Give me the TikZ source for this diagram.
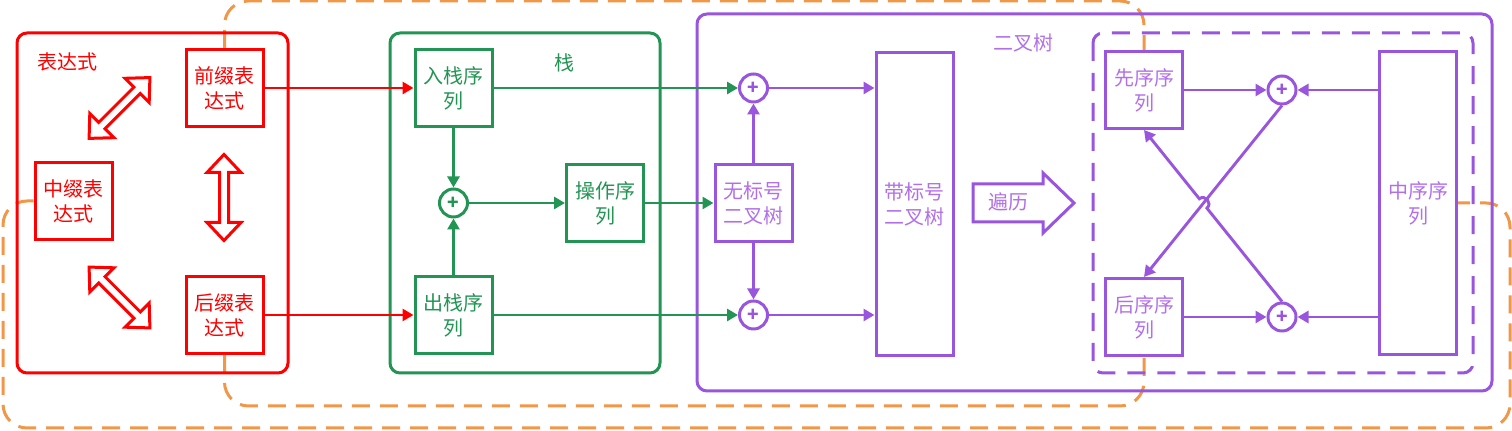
\documentclass[tikz,border=0pt]{standalone}
\usepackage{fontspec}
\setmainfont{Noto Sans CJK SC}
\usetikzlibrary{arrows.meta,calc}
\definecolor{ExprClr}{RGB}{255,0,0}
\definecolor{StackClr}{RGB}{34,148,83}
\definecolor{TreeClr}{RGB}{153,85,221}
\definecolor{TreeTxt}{RGB}{178,112,232}
\definecolor{GroupClr}{RGB}{241,151,72}
\newcommand{\dblarrow}[2]{%
  \draw[ExprClr,line width=1.5pt,fill=white,shift={#1},rotate=#2]
    (-43,0) -- (-25,-17) -- (-25,-4.5) -- (25,-4.5) -- (25,-17) -- (43,0)
    -- (25,17) -- (25,4.5) -- (-25,4.5) -- (-25,17) -- cycle;}

\begin{document}
\begin{tikzpicture}[x=0.5pt,y=-0.5pt,
  frame/.style={line width=1.5pt,rounded corners=5pt},
  box/.style={draw,line width=1.5pt,minimum width=38.5pt,minimum height=38.5pt,
    inner sep=0pt,align=center,font=\fontsize{10}{12.5}\selectfont},
  tall/.style={box,minimum height=151.5pt},
  sum/.style={circle,draw,line width=1.5pt,minimum size=14pt,inner sep=0pt,
    font=\bfseries\fontsize{9.5}{9.5}\selectfont},
  caption/.style={font=\fontsize{10}{12.5}\selectfont},
  link/.style={line width=1.45pt,-{Triangle[length=5.5pt,width=6pt]}},
  grp/.style={GroupClr,line width=1.5pt,dash pattern=on 9pt off 5pt,rounded corners=12pt}]
\useasboundingbox (0,0) rectangle (1512,431);

\node[box,ExprClr] (qz) at (224.5,88) {前缀表\\达式};
\node[box,ExprClr] (zz) at (73.5,201) {中缀表\\达式};
\node[box,ExprClr] (hz) at (224.5,315) {后缀表\\达式};
\node[box,StackClr] (rz) at (453.5,88) {入栈序\\列};
\node[box,StackClr] (cz) at (453.5,315) {出栈序\\列};
\node[sum,StackClr] (pg) at (453.5,203) {+};
\node[box,StackClr] (op) at (605,203) {操作序\\列};
\node[sum,TreeClr] (pa) at (753.5,88) {+};
\node[sum,TreeClr] (pb) at (753.5,315) {+};
\node[box,TreeClr,text=TreeTxt] (wb) at (753.5,203) {无标号\\二叉树};
\node[tall,TreeClr,text=TreeTxt] (db) at (914.5,204) {带标号\\二叉树};
\node[box,TreeClr,text=TreeTxt] (xx) at (1144,90) {先序序\\列};
\node[box,TreeClr,text=TreeTxt] (hx) at (1144,317) {后序序\\列};
\node[tall,TreeClr,text=TreeTxt] (zx) at (1418,203) {中序序\\列};
\node[sum,TreeClr] (c1) at (1282,90) {+};
\node[sum,TreeClr] (c2) at (1282,317) {+};

\draw[grp] (qz.north) -- ++(0,-47) -| (xx.north);
\draw[grp] (hz.south) -- ++(0,51) -| (hx.south);
\draw[grp] (zz.west) -| (3,428) -| (1510,203) -- (zx.east);

\draw[ExprClr,frame] (17,33) rectangle (288,373);
\draw[StackClr,frame] (390,33) rectangle (660,373);
\draw[TreeClr,frame] (697,14) rectangle (1492,391);
\draw[TreeClr,frame,line width=1.5pt,dash pattern=on 9pt off 6pt] (1093,33) rectangle (1473,373);

\node[caption,ExprClr] (lbe) at (68,62) {表达式};
\node[caption,StackClr] (lbs) at (564,63) {栈};
\node[caption,TreeTxt] (lbt) at (1023,43) {二叉树};

\dblarrow{(119.5,108)}{45}
\dblarrow{(224,197.5)}{90}
\dblarrow{(119.5,297.5)}{-45}

\draw[ExprClr,link] (qz.east) -- (rz.west);
\draw[ExprClr,link] (hz.east) -- (cz.west);
\draw[StackClr,link] (rz.south) -- (pg.north);
\draw[StackClr,link] (cz.north) -- (pg.south);
\draw[StackClr,link] (pg.east) -- (op.west);
\draw[StackClr,link] (rz.east) -- (pa.west);
\draw[StackClr,link] (cz.east) -- (pb.west);
\draw[StackClr,link] (op.east) -- (wb.west);
\draw[TreeClr,link] (wb.north) -- (pa.south);
\draw[TreeClr,link] (wb.south) -- (pb.north);
\draw[TreeClr,link] (pa.east) -- (pa -| db.west);
\draw[TreeClr,link] (pb.east) -- (pb -| db.west);

\draw[TreeClr,line width=1.5pt,fill=white] (973,184) -- (1043,184) -- (1043,173) -- (1074,203)
  -- (1043,233) -- (1043,222) -- (973,222) -- cycle;
\node[caption,TreeTxt] (bl) at (1008,202) {遍历};

\draw[TreeClr,link] (xx.east) -- (c1.west);
\draw[TreeClr,link] (c1 -| zx.west) -- (c1.east);
\draw[TreeClr,link] (hx.east) -- (c2.west);
\draw[TreeClr,link] (c2 -| zx.west) -- (c2.east);
\coordinate (hop) at (intersection of c1.south--hx.north and c2.north--xx.south);
\draw[TreeClr,link] (c1.south) -- (hx.north);
\draw[TreeClr,link] (c2.north) -- ($(hop)!3pt!(c2.north)$)
  to[out=39,in=39,looseness=1.6] ($(hop)!3pt!(xx.south)$) -- (xx.south);
\end{tikzpicture}
\end{document}
